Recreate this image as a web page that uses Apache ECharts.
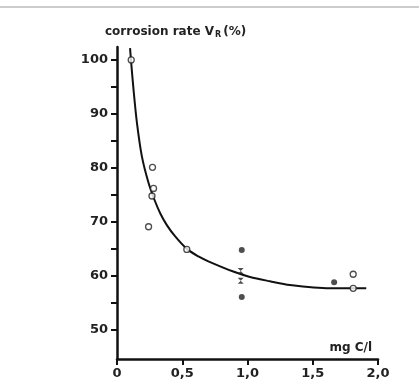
<!DOCTYPE html>
<html>
<head>
<meta charset="utf-8">
<script src="https://cdn.jsdelivr.net/npm/echarts@6/dist/echarts.min.js"></script>
<style>html,body{margin:0;padding:0;background:#fff}#c{width:419px;height:391px}</style>
</head>
<body>
<div id="c"></div>
<script>
// Fitted curve
const curveX = [0.10, 0.107, 0.127, 0.153, 0.191, 0.242, 0.287, 0.331, 0.382, 0.446, 0.535, 0.624, 0.70, 0.891, 1.019, 1.172, 1.325, 1.63, 1.91];
const curveY = [102.2, 100, 94.4, 88.3, 82.1, 77.2, 74.1, 71.6, 69.4, 67.3, 65.0, 63.6, 62.7, 60.8, 59.8, 59.0, 58.3, 57.7, 57.7];
// Open circles
const openX = [0.109, 0.272, 0.28, 0.268, 0.242, 0.535, 1.81, 1.81];
const openY = [100, 80.1, 76.2, 74.8, 69.1, 64.9, 60.3, 57.7];
// Filled dots
const filledX = [0.956, 0.956, 1.664];
const filledY = [64.8, 56.1, 58.8];
// Cross marks
const crossX = [0.948, 0.948];
const crossY = [60.9, 59.1];
// Ticks
const xTicks = [0, 0.5, 1.0, 1.5, 2.0];
const xTickLabels = ['0', '0,5', '1,0', '1,5', '2,0'];
const yTicks = [50, 55, 60, 65, 70, 75, 80, 85, 90, 95, 100];
const yLabels = [50, 60, 70, 80, 90, 100];

const zip = (a, b) => a.map((v, i) => [v, b[i]]);
const chart = echarts.init(document.getElementById('c'));
const font = 'DejaVu Sans, sans-serif';
const txt = {fontFamily: font, fontSize: 13, fontWeight: 'bold', color: '#222'};
chart.setOption({
  animation: false,
  backgroundColor: '#fff',
  grid: {left: 117, top: 47, right: 41, bottom: 32},
  title: [{
    text: 'mg C/l', right: 42, top: 337,
    textStyle: Object.assign({}, txt, {fontSize: 12})
  }],
  graphic: [{type: 'line', shape: {x1: 0, y1: 7, x2: 419, y2: 7}, style: {stroke: '#ccc', lineWidth: 2}}],
  xAxis: {
    type: 'value', min: 0, max: 2.0,
    axisLine: {show: true, onZero: false, lineStyle: {color: '#111', width: 2.5}},
    axisTick: {show: true, customValues: xTicks, length: 6, lineStyle: {color: '#111', width: 2}},
    axisLabel: Object.assign({customValues: xTicks, formatter: v => xTickLabels[xTicks.indexOf(+v.toFixed(1))] ?? '', margin: 8}, txt),
    splitLine: {show: false}
  },
  yAxis: {
    type: 'value', min: 44.6, max: 102.4,
    name: '{a|corrosion rate V}{s|R}{a|(%)}', nameLocation: 'end', nameGap: 8,
    nameTextStyle: {align: 'left', padding: [0, 0, 0, -12],
      rich: {a: {fontFamily: font, fontSize: 12, fontWeight: 'bold', color: '#222'},
             s: {fontFamily: font, fontSize: 8, fontWeight: 'bold', color: '#222', verticalAlign: 'bottom', padding: [6, 2, 0, 1]}}},
    axisLine: {show: true, onZero: false, lineStyle: {color: '#111', width: 2.5}},
    axisTick: {show: true, customValues: yTicks, length: 6, lineStyle: {color: '#111', width: 2}},
    axisLabel: Object.assign({customValues: yLabels, margin: 9}, txt),
    splitLine: {show: false}
  },
  series: [
    {type: 'line', data: zip(curveX, curveY), smooth: 0.3, showSymbol: false, symbol: 'none',
     lineStyle: {color: '#111', width: 2}, z: 2},
    {type: 'scatter', data: zip(openX, openY), symbol: 'circle', symbolSize: 6,
     itemStyle: {color: '#fff', borderColor: '#222', borderWidth: 1.3}, z: 3},
    {type: 'scatter', data: zip(filledX, filledY), symbol: 'circle', symbolSize: 6,
     itemStyle: {color: '#222'}, z: 3},
    {type: 'scatter', data: zip(crossX, crossY), symbol: 'path://M0,0 L10,0 L0,10 L10,10 Z', symbolSize: 6,
     itemStyle: {color: '#222'}, z: 3}
  ]
});
</script>
</body>
</html>
